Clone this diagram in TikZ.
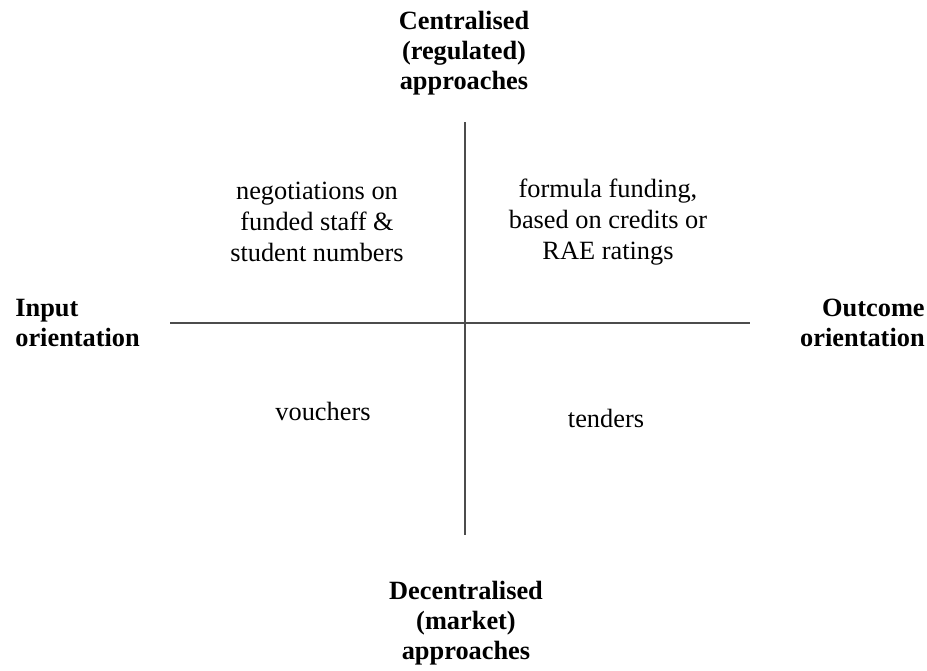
\documentclass[tikz,border=0pt]{standalone}
\usepackage{fontspec}
\setmainfont{Liberation Serif}
\usepackage{tikz}
\tikzset{
	axislabel/.style={font=\fontsize{15}{17}\selectfont\bfseries, align=center, inner sep=0pt},
	cellitem/.style={font=\fontsize{15}{17.6}\selectfont, align=center, inner sep=0pt},
	axisline/.style={line width=0.6pt, color=black!70}
}

\begin{document}
\begin{tikzpicture}[x=0.02cm, y=-0.02cm]
			%%%%% START %%%%%
			\useasboundingbox (0, 0) rectangle (927, 670);
			
			\coordinate (top) at (465, 122);
			\coordinate (bottom) at (465, 535);
			\coordinate (left) at (170, 323);
			\coordinate (right) at (750, 323);
			\draw[axisline] (top) -- (bottom);
			\draw[axisline] (left) -- (right);
			
			\node[axislabel] (central) at (464, 53) {Centralised\\(regulated)\\approaches};
			\node[axislabel] (decentral) at (466, 623) {Decentralised\\(market)\\approaches};
			\node[axislabel, anchor=west, align=left] (input) at (15, 323) {Input\\orientation};
			\node[axislabel, anchor=east, align=right] (outcome) at (925, 323) {Outcome\\orientation};
			
			\node[cellitem] (negot) at (317, 222) {negotiations on\\funded staff \&\\student numbers};
			\node[cellitem] (formula) at (608, 222) {formula funding,\\based on credits or\\RAE ratings};
			\node[cellitem] (vouchers) at (323, 411) {vouchers};
			\node[cellitem] (tenders) at (606, 418) {tenders};
			
			%%%%% END %%%%%
\end{tikzpicture}
\end{document}
